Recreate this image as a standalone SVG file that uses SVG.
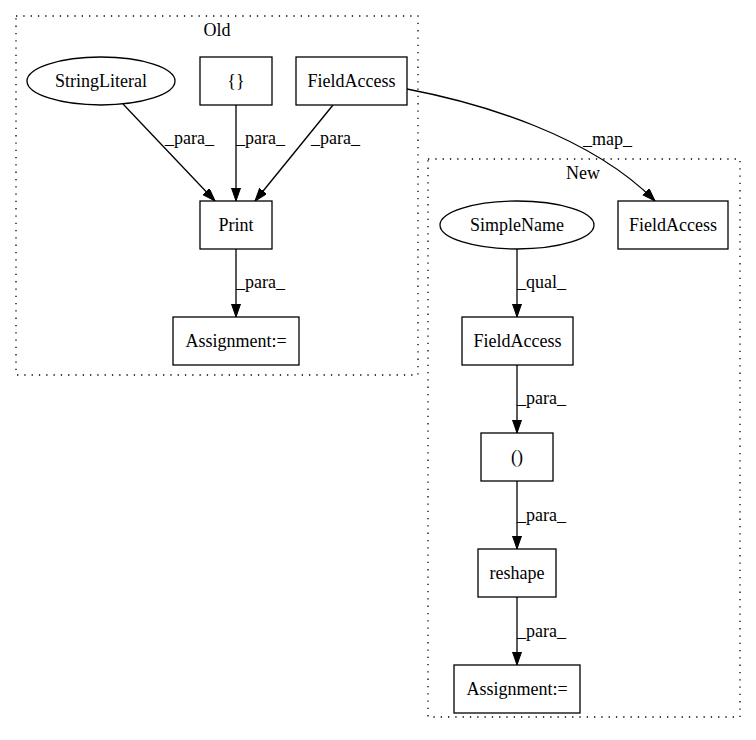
<svg xmlns="http://www.w3.org/2000/svg" width="756" height="740" viewBox="0 0 756 740">
<style>
text{font-family:"Liberation Serif","Times New Roman",serif;font-size:18px;fill:#000}
.n{text-anchor:middle}
.box{fill:#fff;stroke:#000;stroke-width:1.3}
.cl{fill:none;stroke:#000;stroke-width:1.3;stroke-dasharray:1.3,6}
.e{fill:none;stroke:#000;stroke-width:1.3;marker-end:url(#arr)}
</style>
<defs>
<marker id="arr" markerUnits="userSpaceOnUse" markerWidth="14" markerHeight="10" refX="13" refY="4.5" orient="auto">
<path d="M0,0 L13,4.5 L0,9 z" fill="#000" stroke="#000" stroke-width="1"/>
</marker>
</defs>
<rect width="756" height="740" fill="#fff"/>
<g id="cluster_old">
<rect class="cl" x="16" y="16" width="402" height="359"/>
<text class="n" x="217" y="36">Old</text>
</g>
<g id="cluster_new">
<rect class="cl" x="428" y="159" width="312" height="558"/>
<text class="n" x="583" y="179">New</text>
</g>
<g id="edges">
<line class="e" x1="123" y1="104" x2="215" y2="201"/>
<text x="165" y="144">_para_</text>
<line class="e" x1="236" y1="105" x2="236" y2="201"/>
<text x="236" y="144">_para_</text>
<line class="e" x1="333" y1="105" x2="255" y2="201"/>
<text x="311" y="144">_para_</text>
<line class="e" x1="236" y1="249" x2="236" y2="317"/>
<text x="236" y="288">_para_</text>
<path class="e" d="M407,89 C480,103 590,135 655,201"/>
<text x="583" y="145">_map_</text>
<line class="e" x1="517" y1="249" x2="517" y2="317"/>
<text x="517" y="288">_qual_</text>
<line class="e" x1="517" y1="365" x2="517" y2="433"/>
<text x="517" y="404">_para_</text>
<line class="e" x1="517" y1="481" x2="517" y2="549"/>
<text x="517" y="521">_para_</text>
<line class="e" x1="517" y1="597" x2="517" y2="665"/>
<text x="517" y="637">_para_</text>
</g>
<g id="StringLiteral">
<ellipse class="box" cx="101" cy="81" rx="74" ry="24"/>
<text class="n" x="101" y="87">StringLiteral</text>
</g>
<g id="Braces">
<rect class="box" x="200" y="57" width="72" height="48"/>
<text class="n" x="236" y="87">{}</text>
</g>
<g id="FieldAccess_old">
<rect class="box" x="296" y="57" width="111" height="48"/>
<text class="n" x="351.5" y="87">FieldAccess</text>
</g>
<g id="Print">
<rect class="box" x="200" y="201" width="72" height="48"/>
<text class="n" x="236" y="231">Print</text>
</g>
<g id="Assignment_old">
<rect class="box" x="173" y="317" width="126" height="48"/>
<text class="n" x="236" y="347">Assignment:=</text>
</g>
<g id="FieldAccess_new">
<rect class="box" x="618" y="201" width="110" height="48"/>
<text class="n" x="673" y="231">FieldAccess</text>
</g>
<g id="SimpleName">
<ellipse class="box" cx="517" cy="225" rx="77" ry="24"/>
<text class="n" x="517" y="231">SimpleName</text>
</g>
<g id="FieldAccess_inner">
<rect class="box" x="462" y="317" width="111" height="48"/>
<text class="n" x="517.5" y="347">FieldAccess</text>
</g>
<g id="Parens">
<rect class="box" x="481" y="433" width="72" height="48"/>
<text class="n" x="517" y="463">()</text>
</g>
<g id="reshape">
<rect class="box" x="478" y="549" width="78" height="48"/>
<text class="n" x="517" y="579">reshape</text>
</g>
<g id="Assignment_new">
<rect class="box" x="454" y="665" width="126" height="48"/>
<text class="n" x="517" y="695">Assignment:=</text>
</g>
</svg>
